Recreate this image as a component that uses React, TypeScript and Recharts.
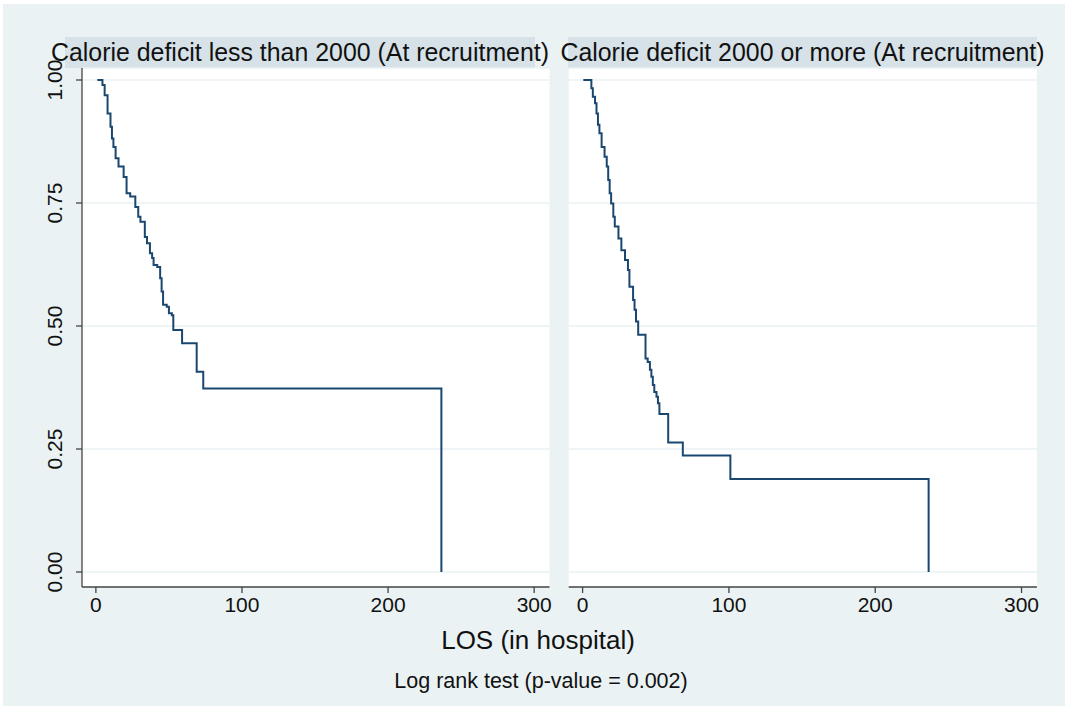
import { CartesianGrid, Line, LineChart, XAxis, YAxis } from 'recharts'

// Kaplan-Meier estimates (days, survival)
const lowDays = [1, 4.5, 6, 8, 10, 11, 12, 13.5, 15.5, 19, 21, 23.5, 27, 29, 30.5, 33.5, 35, 37, 38.5, 39.5, 42, 44, 45, 46, 48.5, 50, 52, 53, 59, 69, 73.5, 236.5]
const lowSurv = [1.0, 0.99, 0.969, 0.932, 0.905, 0.881, 0.864, 0.841, 0.824, 0.803, 0.77, 0.763, 0.742, 0.722, 0.712, 0.681, 0.668, 0.648, 0.638, 0.624, 0.62, 0.597, 0.57, 0.543, 0.539, 0.526, 0.522, 0.492, 0.465, 0.407, 0.373, 0]

const highDays = [0.5, 6, 7, 8.5, 9.5, 10.5, 11.5, 13, 15, 16.5, 17.5, 18.5, 19.5, 21, 22, 24.5, 26.5, 29, 31, 32, 34.5, 35.5, 36.5, 38, 43, 44.5, 46, 47, 48, 49, 50.5, 51.5, 52.5, 58.5, 68.5, 101, 236.5]
const highSurv = [1.0, 0.983, 0.966, 0.953, 0.932, 0.909, 0.892, 0.864, 0.844, 0.824, 0.797, 0.77, 0.749, 0.722, 0.702, 0.678, 0.654, 0.634, 0.614, 0.58, 0.553, 0.533, 0.509, 0.482, 0.434, 0.427, 0.411, 0.397, 0.38, 0.366, 0.356, 0.343, 0.321, 0.263, 0.237, 0.189, 0]

const xTicks = [0, 100, 200, 300]
const yTicks = [0, 0.25, 0.5, 0.75, 1]
const panelTitles = ['Calorie deficit less than 2000 (At recruitment)', 'Calorie deficit 2000 or more (At recruitment)']
const xTitle = 'LOS (in hospital)'
const note = 'Log rank test (p-value = 0.002)'

const FONT = '"Liberation Sans", Arial, sans-serif'
const BG = 'rgb(234,242,243)'
const BAND = 'rgb(214,226,232)'
const GRID = 'rgb(234,242,243)'
const NAVY = '#1a476f'
const AXIS = '#444'

const toRows = (days: number[], surv: number[]) => days.map((t, i) => ({ t, s: surv[i] }))
const lowRows = toRows(lowDays, lowSurv)
const highRows = toRows(highDays, highSurv)

const X_DOMAIN: [number, number] = [-9.5, 310.5]
const Y_DOMAIN: [number, number] = [-0.0305, 1.0244]

function YTick(props: any) {
  const { y, payload } = props
  const bx = 62.5
  return (
    <text
      x={bx}
      y={y}
      transform={`rotate(-90, ${bx}, ${y})`}
      textAnchor="middle"
      fontSize={21}
      fontFamily={FONT}
      fill="#111"
    >
      {Number(payload.value).toFixed(2)}
    </text>
  )
}

function Panel({ rows, showY }: { rows: { t: number; s: number }[]; showY: boolean }) {
  return (
    <LineChart
      width={showY ? 560 : 505}
      height={706}
      data={rows}
      margin={showY ? { top: 68, right: 10.5, left: 42, bottom: 79 } : { top: 68, right: 28.1, left: 8.7, bottom: 79 }}
    >
      <CartesianGrid vertical={false} stroke={GRID} strokeWidth={1.5} fill="#fff" fillOpacity={1} />
      <XAxis
        type="number"
        dataKey="t"
        domain={X_DOMAIN}
        ticks={xTicks}
        allowDataOverflow
        height={40}
        stroke={AXIS}
        strokeWidth={1.3}
        tickSize={6}
        tickMargin={4}
        tick={{ fontSize: 21, fontFamily: FONT, fill: '#111' }}
      />
      <YAxis
        type="number"
        domain={Y_DOMAIN}
        ticks={yTicks}
        allowDataOverflow
        width={40}
        hide={!showY}
        stroke={AXIS}
        strokeWidth={1.3}
        tickSize={6}
        tick={<YTick />}
      />
      <Line
        type="stepAfter"
        dataKey="s"
        stroke={NAVY}
        strokeWidth={2}
        dot={false}
        isAnimationActive={false}
      />
    </LineChart>
  )
}

export default function App() {
  const abs = { position: 'absolute' as const }
  return (
    <div style={{ ...abs, left: 0, top: 0, width: 1065, height: 706, background: '#fff', fontFamily: FONT, overflow: 'hidden' }}>
      <div style={{ ...abs, left: 3, top: 4, width: 1062, height: 702, background: BG }} />
      <div style={{ ...abs, left: 65, top: 37, width: 470, height: 31, background: BAND }} />
      <div style={{ ...abs, left: 568, top: 37, width: 469, height: 31, background: BAND }} />
      <div style={{ ...abs, left: 0, top: 0 }}>
        <Panel rows={lowRows} showY />
      </div>
      <div style={{ ...abs, left: 560, top: 0 }}>
        <Panel rows={highRows} showY={false} />
      </div>
      <div style={{ ...abs, left: 300, top: 52, transform: 'translate(-50%, -50%)', whiteSpace: 'nowrap', fontSize: 24.9, color: '#111' }}>
        {panelTitles[0]}
      </div>
      <div style={{ ...abs, left: 802.5, top: 52, transform: 'translate(-50%, -50%)', whiteSpace: 'nowrap', fontSize: 24.9, color: '#111' }}>
        {panelTitles[1]}
      </div>
      <div style={{ ...abs, left: 538, top: 640, transform: 'translate(-50%, -50%)', whiteSpace: 'nowrap', fontSize: 26, color: '#111' }}>
        {xTitle}
      </div>
      <div style={{ ...abs, left: 541, top: 681, transform: 'translate(-50%, -50%)', whiteSpace: 'nowrap', fontSize: 21.5, color: '#111' }}>
        {note}
      </div>
    </div>
  )
}
